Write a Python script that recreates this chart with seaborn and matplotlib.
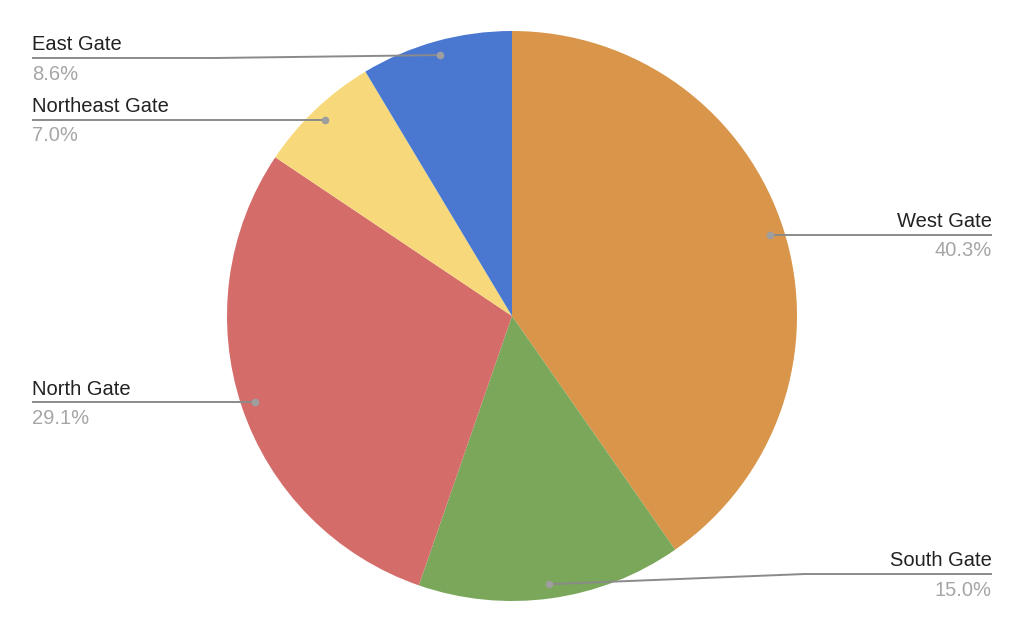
import matplotlib
matplotlib.use("Agg")
import matplotlib.pyplot as plt
import numpy as np
import seaborn as sns

# data, clockwise from 12 o'clock
gates = ["West Gate", "South Gate", "North Gate", "Northeast Gate", "East Gate"]
shares = [40.3, 15.0, 29.1, 7.0, 8.6]
colors = ["#D9954A", "#7AA75A", "#D46C6A", "#F7D97B", "#4A78D1"]

# label layout (pixel rows of the leader line, side, elbow x)
label_rows = [235, 574, 402, 120, 58]
label_side = ["right", "right", "left", "left", "left"]
label_elbow = [None, 805, None, None, 215]

W, H = 1024, 633
cx, cy, r = 512, 316, 285

sns.set_style("white")
plt.rcParams["font.family"] = ["Liberation Sans", "DejaVu Sans"]

fig = plt.figure(figsize=(W / 100, H / 100), dpi=100)
ax = fig.add_axes([0, 0, 1, 1])
ax.set_xlim(0, W)
ax.set_ylim(0, H)
ax.axis("off")

wedges, _ = ax.pie(shares, colors=colors, startangle=90, counterclock=False,
                   center=(cx, H - cy), radius=r,
                   wedgeprops=dict(linewidth=0))
ax.set_xlim(0, W)
ax.set_ylim(0, H)
ax.set_aspect("equal")

for w, name, val, row, side, elbow in zip(wedges, gates, shares, label_rows,
                                          label_side, label_elbow):
    mid = np.deg2rad((w.theta1 + w.theta2) / 2)
    dx = cx + 0.95 * r * np.cos(mid)
    dy = (H - cy) + 0.95 * r * np.sin(mid)
    ly = H - row
    end_x = 992 if side == "right" else 32
    xs = [dx]
    ys = [dy]
    if elbow is not None:
        xs.append(elbow)
        ys.append(ly)
    else:
        ly = dy
    xs.append(end_x)
    ys.append(ly)
    ax.plot(xs, ys, color="#8a8a8a", lw=1.4, solid_capstyle="butt", zorder=3)
    ax.plot([dx], [dy], "o", color="#9e9e9e", ms=5.5, mec="none", zorder=4)
    ha = "right" if side == "right" else "left"
    ax.text(end_x, ly + 7.5, name, ha=ha, va="baseline", fontsize=14.5,
            color="#222222")
    ax.text(end_x, ly - 21.5, f"{val:.1f}%", ha=ha, va="baseline", fontsize=14.5,
            color="#a6a6a6")

fig.savefig("out.png", dpi=100)
